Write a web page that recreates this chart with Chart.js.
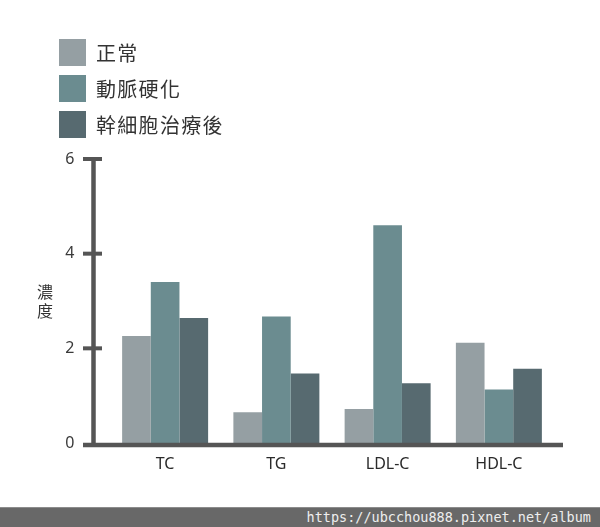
<!DOCTYPE html>
<html>
<head>
<meta charset="utf-8">
<script src="https://cdn.jsdelivr.net/npm/chart.js@4.4.1/dist/chart.umd.min.js"></script>
<style>
    html, body { margin: 0; padding: 0; background: #fff; }
    #wrap { position: relative; width: 600px; height: 527px; overflow: hidden; }
    #chart { position: absolute; left: 0; top: 0; }
    #legend { position: absolute; left: 59px; top: 39px; font-family: "Noto Sans CJK TC", "Noto Sans", sans-serif; }
    .legend-item { display: flex; align-items: center; height: 27px; margin-bottom: 9px; }
    .legend-box { width: 27px; height: 27px; margin-right: 10px; }
    .legend-text { font-size: 20px; letter-spacing: 1.3px; color: #333; }
    #watermark {
        position: absolute; left: 0; top: 507px; width: 600px; height: 20px;
        background: #686868; border-top: 1px solid #8c8c8c; box-sizing: border-box;
        color: #eee; font-family: "DejaVu Sans Mono", "Liberation Mono", monospace;
        font-size: 13.5px; line-height: 19px; text-align: right; padding-right: 9px;
    }
</style>
</head>
<body>
<div id="wrap">
    <canvas id="chart" width="600" height="507"></canvas>
    <div id="legend"></div>
    <div id="watermark">https://ubcchou888.pixnet.net/album</div>
</div>
<script>
const categories = ['TC', 'TG', 'LDL-C', 'HDL-C'];
const seriesNames = ['正常', '動脈硬化', '幹細胞治療後'];
const normalValues = [2.26, 0.65, 0.72, 2.12];
const atheroValues = [3.40, 2.67, 4.60, 1.13];
const stemCellValues = [2.64, 1.47, 1.26, 1.57];
const yTicks = [0, 2, 4, 6];
const yTitle = ['濃', '度'];

const colors = ['#959fa3', '#6b8c90', '#576a70'];
const axisColor = '#555555';

// Axis lines, caps and the stacked y title
const axisPlugin = {
    id: 'axisLines',
    afterDatasetsDraw(chart) {
        const ctx = chart.ctx;
        const y = chart.scales.y;
        const axisX = 93.5;
        const zeroY = y.getPixelForValue(0);
        ctx.save();
        ctx.strokeStyle = axisColor;
        ctx.lineCap = 'butt';

        ctx.lineWidth = 4.5;
        ctx.beginPath();
        ctx.moveTo(axisX, y.getPixelForValue(6) - 2);
        ctx.lineTo(axisX, zeroY);
        ctx.stroke();

        ctx.lineWidth = 4;
        yTicks.filter(v => v > 0).forEach(v => {
            const py = y.getPixelForValue(v);
            ctx.beginPath();
            ctx.moveTo(83, py);
            ctx.lineTo(102, py);
            ctx.stroke();
        });

        ctx.lineWidth = 4.5;
        ctx.beginPath();
        ctx.moveTo(83, zeroY + 2);
        ctx.lineTo(563, zeroY + 2);
        ctx.stroke();

        ctx.fillStyle = '#333';
        ctx.font = '16px "Noto Sans CJK TC", sans-serif';
        ctx.textAlign = 'center';
        ctx.textBaseline = 'middle';
        const midY = y.getPixelForValue(3);
        yTitle.forEach((ch, i) => {
            ctx.fillText(ch, 45, midY - 9 + i * 19);
        });
        ctx.restore();
    }
};

const chart = new Chart(document.getElementById('chart'), {
    type: 'bar',
    data: {
        labels: categories,
        datasets: [normalValues, atheroValues, stemCellValues].map((data, i) => ({
            label: seriesNames[i],
            data: data,
            backgroundColor: colors[i],
            borderWidth: 0,
            barPercentage: 1.0,
            categoryPercentage: 0.773
        }))
    },
    options: {
        responsive: false,
        animation: false,
        layout: { padding: { top: 159, right: 45.5, bottom: 14, left: 0 } },
        plugins: {
            legend: { display: false },
            tooltip: { enabled: false }
        },
        scales: {
            x: {
                grid: { display: false, drawTicks: false },
                border: { display: false },
                ticks: {
                    color: '#2a2a2a',
                    padding: 12,
                    font: { family: '"Noto Sans", sans-serif', size: 16 }
                },
                afterFit(scale) { scale.height = 50; }
            },
            y: {
                min: 0,
                max: 6,
                grid: { display: false, drawTicks: false },
                border: { display: false },
                ticks: {
                    stepSize: 2,
                    color: '#3a3a3a',
                    padding: 35,
                    font: { family: '"Noto Sans", sans-serif', size: 16 }
                },
                afterFit(scale) { scale.width = 109.5; }
            }
        }
    },
    plugins: [axisPlugin]
});

// HTML legend built from the datasets
const legendEl = document.getElementById('legend');
chart.data.datasets.forEach(ds => {
    const item = document.createElement('div');
    item.className = 'legend-item';
    item.innerHTML = `<div class="legend-box" style="background:${ds.backgroundColor}"></div>` +
        `<span class="legend-text">${ds.label}</span>`;
    legendEl.appendChild(item);
});
</script>
</body>
</html>
